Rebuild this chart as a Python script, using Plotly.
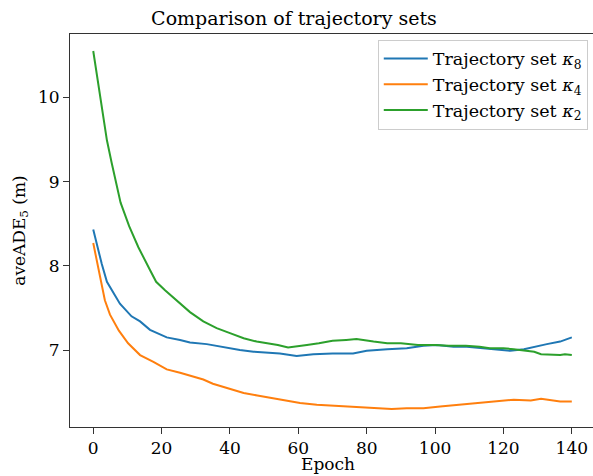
import plotly.graph_objects as go

# ---- data ----
epochs_k8 = [0, 1.5, 2.5, 4, 7.8, 11.2, 13.7, 16.6, 21.5, 25.4, 28.3, 33.2, 37.1, 42.9, 46.9, 51.7,
             54.6, 59.5, 64.4, 70, 76, 80, 86, 91.7, 96.6, 100.5, 105.4, 109.3, 114, 119, 122,
             126, 130, 132.7, 136.6, 140]
ade_k8 = [8.43, 8.17, 8.02, 7.81, 7.55, 7.40, 7.34, 7.24, 7.15, 7.12, 7.09, 7.07, 7.04, 7.00, 6.98, 6.97,
          6.96, 6.93, 6.95, 6.96, 6.96, 6.99, 7.01, 7.02, 7.05, 7.06, 7.04, 7.04, 7.02, 7.00, 6.99,
          7.01, 7.05, 7.07, 7.10, 7.15]

epochs_k4 = [0, 1.5, 2.0, 2.9, 3.4, 4.9, 7.5, 10.2, 12.7, 13.7, 17.6, 21.5, 25.4, 29.3, 32.2, 35, 39,
             44, 48, 52, 55.6, 60.5, 65.4, 70, 75, 80, 85, 87.3, 91.7, 96.6, 101.5, 106.4, 111,
             114, 119, 123, 128, 131, 136.6, 140]
ade_k4 = [8.27, 7.95, 7.87, 7.67, 7.59, 7.42, 7.23, 7.08, 6.98, 6.94, 6.86, 6.77, 6.73, 6.68, 6.65, 6.60, 6.55,
          6.49, 6.46, 6.43, 6.41, 6.37, 6.35, 6.34, 6.33, 6.32, 6.31, 6.30, 6.31, 6.31, 6.33, 6.35, 6.36,
          6.38, 6.40, 6.41, 6.40, 6.42, 6.39, 6.39]

epochs_k2 = [0, 2.5, 4, 5.4, 8, 10.5, 13.2, 16.6, 18.4, 21, 24.4, 28.3, 32.2, 36.1, 40, 44, 47.8,
             51.7, 54, 57, 59.5, 62.5, 66, 70, 74, 77, 82, 86, 90, 95, 100, 104, 109, 113, 116,
             120, 123, 129, 131, 136.6, 138, 140]
ade_k2 = [10.55, 9.89, 9.49, 9.22, 8.75, 8.47, 8.22, 7.95, 7.81, 7.71, 7.59, 7.45, 7.34, 7.26, 7.20, 7.14, 7.10,
          7.08, 7.06, 7.03, 7.04, 7.06, 7.08, 7.11, 7.12, 7.13, 7.10, 7.08, 7.08, 7.06, 7.06, 7.05, 7.05, 7.04, 7.02,
          7.02, 7.01, 6.98, 6.95, 6.94, 6.95, 6.94]

names = ["Trajectory set <i>κ</i><sub>8</sub>", "Trajectory set <i>κ</i><sub>4</sub>",
         "Trajectory set <i>κ</i><sub>2</sub>"]
colors = ["#1f77b4", "#ff7f0e", "#2ca02c"]
x_ticks = [0, 20, 40, 60, 80, 100, 120, 140]
y_ticks = [7, 8, 9, 10]

FONT = "DejaVu Serif"

fig = go.Figure()
for i, (xs, ys) in enumerate([(epochs_k8, ade_k8), (epochs_k4, ade_k4), (epochs_k2, ade_k2)]):
    fig.add_trace(go.Scatter(x=xs, y=ys, mode="lines", name=names[i], legendgroup=str(i),
                             line=dict(color=colors[i], width=2)))

fig.update_layout(
    width=593, height=476,
    margin=dict(l=70, r=0, t=34, b=49),
    paper_bgcolor="white", plot_bgcolor="white",
    font=dict(family=FONT, size=17, color="black"),
    title=dict(text="Comparison of trajectory sets", x=294 / 593, xref="container", xanchor="center",
               y=1 - 18 / 476, yref="container", yanchor="middle",
               font=dict(family=FONT, size=19, color="black")),
    showlegend=True,
    legend=dict(x=0.99, xanchor="right", y=0.986, yanchor="top",
                bgcolor="rgba(255,255,255,0.8)", bordercolor="#cccccc", borderwidth=1,
                font=dict(family=FONT, size=17.5, color="black"),
                traceorder="grouped", tracegroupgap=0, itemwidth=44),
    xaxis=dict(range=[-6.8, 146.2], tickvals=x_ticks, ticks="outside", ticklen=6, tickwidth=1,
               tickcolor="#333", showline=True, linecolor="#333", linewidth=1, mirror=True,
               showgrid=False, zeroline=False, tickfont=dict(family=FONT, size=17)),
    yaxis=dict(range=[6.086, 10.752], tickvals=y_ticks, ticks="outside", ticklen=6, tickwidth=1,
               tickcolor="#333", showline=True, linecolor="#333", linewidth=1, mirror=False,
               showgrid=False, zeroline=False, tickfont=dict(family=FONT, size=17),
               title=dict(text="aveADE<sub>5</sub> (m)", standoff=8, font=dict(family=FONT, size=17))),
    annotations=[dict(text="Epoch", xref="paper", yref="paper", x=(328 - 70) / 523, y=-(464 - 427) / 393,
                      xanchor="center", yanchor="middle", showarrow=False,
                      font=dict(family=FONT, size=17, color="black"))],
)

fig.write_html("out.html")
